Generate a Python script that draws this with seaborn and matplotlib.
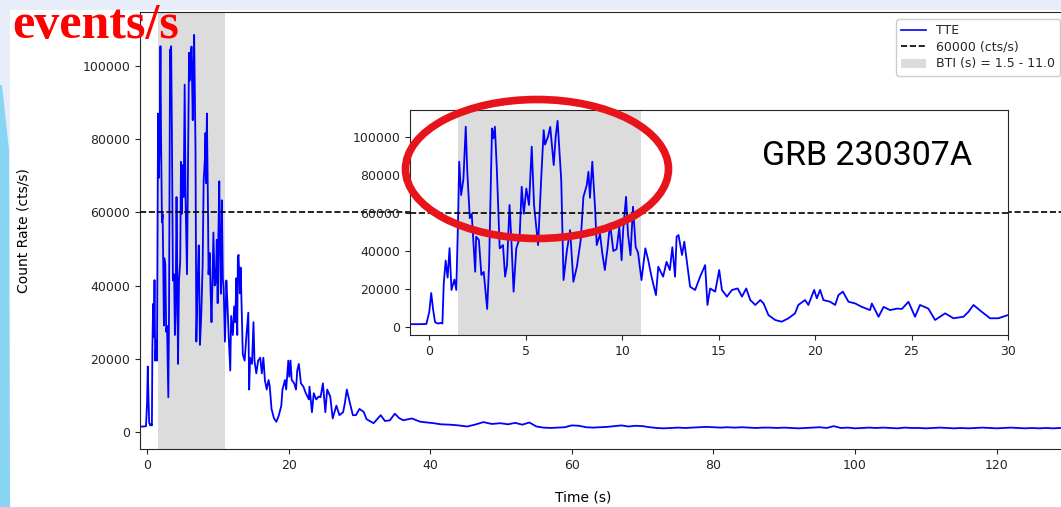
import matplotlib
matplotlib.use("Agg")
import matplotlib.pyplot as plt
import seaborn as sns
import pandas as pd
from matplotlib.lines import Line2D
from matplotlib.patches import Patch, Ellipse, Rectangle, Polygon

# ---------------- data ----------------
t_pre = [-1.0, -0.5, -0.15, 0.0, 0.1, 0.2, 0.3, 0.45, 0.6, 0.68]
r_pre = [1500, 1500, 1600, 8000, 17900, 9000, 2500, 1800, 2200, 1800]

t_burst = [0.75, 0.85, 0.95, 1.05, 1.15, 1.3, 1.4, 1.5, 1.55, 1.65, 1.77, 1.89, 1.97,
           2.1, 2.2, 2.38, 2.43, 2.57, 2.7, 2.82, 3.0, 3.1, 3.25, 3.33, 3.4, 3.5,
           3.65, 3.82, 3.93, 4.03, 4.16, 4.25, 4.37, 4.51, 4.68, 4.79, 4.9, 5.03,
           5.17, 5.31, 5.43, 5.64, 5.81, 5.93, 6.0, 6.15, 6.27, 6.45, 6.55, 6.65,
           6.84, 6.96, 7.13, 7.3, 7.47, 7.65, 7.85, 7.99, 8.16, 8.25, 8.33, 8.45,
           8.6, 8.68, 8.85, 8.97, 9.1, 9.24, 9.37, 9.54, 9.71, 9.85, 9.97, 10.05,
           10.2, 10.3, 10.43, 10.56, 10.7, 10.82, 11.0]
r_burst = [23000, 35000, 26000, 41500, 19500, 25000, 19500, 60600, 87000, 69400, 78000, 105400, 81700,
           57300, 59500, 29100, 47500, 45800, 27400, 29000, 9500, 32600, 104500, 99300, 105400, 83500,
           41400, 43100, 26500, 32600, 64200, 46700, 18600, 41400, 46700, 73800, 59600, 72900,
           64200, 94900, 64200, 43100, 80000, 103600, 96000, 100000, 105300, 85200, 100000, 108500,
           77300, 24700, 40000, 51000, 23800, 31700, 45800, 68500, 74500, 81700, 68000, 87000,
           61500, 43100, 48900, 38700, 30000, 41400, 54500, 40000, 41000, 52500, 35200, 51000,
           68500, 48900, 37800, 63300, 42000, 39200, 24700]

t_decay = [11.2, 11.35, 11.52, 11.75, 11.87, 12.12, 12.3, 12.47, 12.6, 12.74, 12.82, 12.92,
           13.1, 13.22, 13.52, 13.78, 14.04, 14.3, 14.42, 14.56, 14.82, 15.03, 15.17, 15.43,
           15.69, 15.99, 16.21, 16.43, 16.64, 16.9, 17.16, 17.33, 17.58, 17.93, 18.27, 18.62,
           18.96, 19.13, 19.48, 19.65, 19.95, 20.09, 20.26, 20.43, 20.78, 21.04, 21.21, 21.44,
           21.73, 22.08, 22.42, 22.85, 22.94, 23.29, 23.55, 23.89, 24.24, 24.5, 24.84, 25.18,
           25.44, 25.87, 26.22, 26.74, 27.17, 27.69, 27.95, 28.21, 28.64, 29.07, 29.5, 30.0]
r_decay = [41400, 35200, 26500, 16800, 31700, 26500, 34300, 30000, 42000, 26500, 47500, 48400,
           37900, 44900, 21200, 19500, 26500, 32600, 11600, 20300, 18600, 30000, 19500, 16000,
           19500, 20300, 16000, 20300, 14200, 11600, 14200, 12400, 6300, 3700, 2800, 4600,
           7200, 11600, 14200, 11600, 19500, 15100, 19500, 14200, 13300, 11600, 16800, 18600,
           13300, 12400, 10600, 8900, 12400, 5400, 10600, 8900, 9700, 9500, 13300, 5400,
           11600, 9700, 3700, 7200, 4600, 5400, 8000, 11600, 8000, 4600, 4600, 6300]

t_tail = [30.6, 31.0, 32.0, 33.0, 33.6, 34.3, 35.0, 35.6, 36.2, 37.4, 38.6, 39.5, 40.5,
          41.5, 42.8, 44.0, 45.2, 46.3, 47.5, 48.7, 49.9, 51.0, 52.0, 53.0, 54.0,
          55, 56, 57, 58, 59, 60, 61, 62, 63, 64, 65, 66, 67, 68, 69, 70, 71, 72, 73,
          74, 75, 76, 77, 78, 79, 80, 81, 82, 83, 84, 85, 86, 87, 88, 89, 90, 91, 92,
          93, 94, 95, 96, 97, 98, 99, 100, 101, 102, 103, 104, 105, 106, 107, 108, 109,
          110, 111, 112, 113, 114, 115, 116, 117, 118, 119, 120, 121, 122, 123, 124,
          125, 126, 127, 128, 129, 130]
r_tail = [5500, 3500, 2400, 4600, 3000, 3200, 5000, 3800, 3200, 3700, 2800, 2600, 2400,
          2100, 2000, 1800, 1500, 2000, 2700, 2200, 2400, 2100, 2500, 2000, 2600,
          1500, 1200, 1100, 1200, 1300, 1800, 1700, 1300, 1200, 1300, 1400, 1600, 1800,
          1500, 1700, 1600, 1300, 1100, 1000, 1100, 1200, 1100, 1200, 1300, 1400, 1300,
          1200, 1300, 1200, 1300, 1200, 1100, 1200, 1200, 1100, 1200, 1100, 1000, 1100,
          1200, 1300, 1100, 1600, 1100, 1200, 1000, 1100, 1200, 1100, 1200, 1100, 1000,
          1200, 1100, 1100, 1000, 1100, 1200, 1100, 1000, 1100, 1000, 1100, 1200, 1100,
          1000, 1100, 1200, 1100, 1000, 1100, 1000, 1100, 1000, 1100, 1000]

bti_start, bti_end = 1.5, 11.0
threshold = 60000
main_xticks = [0, 20, 40, 60, 80, 100, 120]
inset_xticks = [0, 5, 10, 15, 20, 25, 30]
yticks = [0, 20000, 40000, 60000, 80000, 100000]

df = pd.DataFrame({"time": t_pre + t_burst + t_decay + t_tail,
                   "rate": r_pre + r_burst + r_decay + r_tail})

# ---------------- figure ----------------
W, H = 1061, 507
plt.rcParams["font.family"] = ["DejaVu Sans"]
plt.rcParams["text.color"] = "#262626"
plt.rcParams["xtick.color"] = "#262626"
plt.rcParams["ytick.color"] = "#262626"
plt.rcParams["axes.edgecolor"] = "#262626"
fig = plt.figure(figsize=(W / 100, H / 100), dpi=100)


def fx(px):
    return px / W


def fy(py):
    return 1 - py / H


# slide background
fig.add_artist(Rectangle((0, 0), 1, 1, transform=fig.transFigure,
                         facecolor="#e7eefa", edgecolor="none", zorder=-20))
fig.add_artist(Rectangle((fx(10), 0), 1, fy(10), transform=fig.transFigure,
                         facecolor="white", edgecolor="none", zorder=-19))
fig.add_artist(Polygon([(fx(0), fy(85)), (fx(2), fy(85)), (fx(9), fy(150)),
                        (fx(10), fy(507)), (fx(0), fy(507))], closed=True,
                       transform=fig.transFigure, facecolor="#88d4f3",
                       edgecolor="none", zorder=-18))

# main axes
ax = fig.add_axes([fx(140), fy(449), fx(1061) - fx(140), (449 - 12) / H])
ax.axvspan(bti_start, bti_end, color="#dcdcdc", lw=0, zorder=1)
sns.lineplot(data=df, x="time", y="rate", ax=ax, color="blue", lw=1.3,
             estimator=None, sort=False, legend=False, zorder=2)
ax.axhline(threshold, color="black", ls="--", lw=1.2, zorder=3)
ax.set_xlim(-1, 129.1)
ax.set_ylim(-4645, 114750)
ax.set_xticks(main_xticks)
ax.set_yticks(yticks)
ax.spines["right"].set_visible(False)
ax.tick_params(labelsize=9)
ax.set_xlabel("Time (s)", fontsize=10)
ax.xaxis.set_label_coords(0.481, -0.094)
ax.set_ylabel("Count Rate (cts/s)", fontsize=10)
ax.yaxis.set_label_coords(-0.119, 0.5)

# inset axes
axi = fig.add_axes([fx(410), fy(335), (1008 - 410) / W, (335 - 110) / H], zorder=2)
axi.axvspan(bti_start, bti_end, color="#dcdcdc", lw=0, zorder=1)
sns.lineplot(data=df, x="time", y="rate", ax=axi, color="blue", lw=1.3,
             estimator=None, sort=False, legend=False, zorder=2)
axi.axhline(threshold, color="black", ls="--", lw=1.2, zorder=3)
axi.set_xlim(-1, 30)
axi.set_ylim(-4200, 114200)
axi.set_xticks(inset_xticks)
axi.set_yticks(yticks)
axi.tick_params(labelsize=9)
axi.set_xlabel("")
axi.set_ylabel("")

# legend
handles = [Line2D([], [], color="blue", lw=1.2),
           Line2D([], [], color="black", ls="--", lw=1.2),
           Patch(facecolor="#dcdcdc", edgecolor="none")]
labels = ["TTE", f"{threshold} (cts/s)", f"BTI (s) = {bti_start} - {bti_end}"]
fig.legend(handles, labels, loc="upper right", bbox_to_anchor=(fx(1060), fy(19)),
           fontsize=9, labelspacing=0.3, borderaxespad=0, framealpha=1,
           edgecolor="#cccccc", fancybox=True)

# annotations
fig.add_artist(Ellipse((fx(537), fy(169)), width=263 / W, height=139 / H,
                       transform=fig.transFigure, fill=False,
                       edgecolor="#e8141b", lw=5.5, zorder=10))
fig.text(fx(762), fy(165), "GRB 230307A", fontsize=24.5,
         family=["Roboto", "DejaVu Sans"],
         color="black", va="baseline", ha="left", zorder=11)
fig.text(fx(12), fy(38), "events/s", fontsize=36, family=["Liberation Serif"],
         weight="bold", color="red", va="baseline", ha="left", zorder=11)

fig.savefig("out.png", dpi=100)
